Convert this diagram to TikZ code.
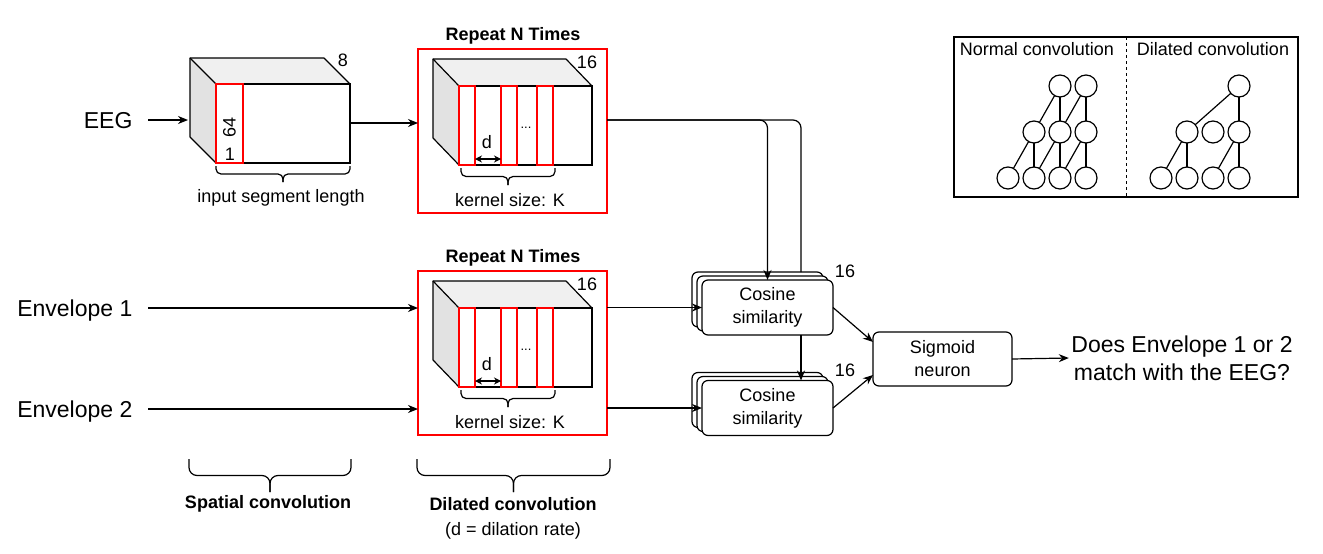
\documentclass[tikz,border=0pt]{standalone}
\usepackage{fontspec}
\setmainfont{Liberation Sans}
\usetikzlibrary{arrows.meta,calc}
\definecolor{topface}{HTML}{F0F0F0}
\definecolor{sideface}{HTML}{E2E2E2}
\definecolor{myred}{HTML}{FF0000}
\newcommand\ubrace[5]{% x1, x2, ytop, ytip, radius
  \draw[rounded corners=#5] (#1,#3) |- ({(#1+#2)/2},{(#3+#4)/2}) -- ({(#1+#2)/2},#4);
  \draw[rounded corners=#5] (#2,#3) |- ({(#1+#2)/2},{(#3+#4)/2}) -- ({(#1+#2)/2},#4);
}
\begin{document}
\begin{tikzpicture}[x=1pt,y=-1pt,line width=1.2pt,
  >={Stealth[length=10pt,width=8pt]},
  txt/.style={font=\fontsize{18}{22}\selectfont,inner sep=0pt,align=center},
  bigtxt/.style={font=\fontsize{23}{28}\selectfont,inner sep=0pt,align=center},
  boldtxt/.style={font=\fontsize{18}{22}\selectfont\bfseries,inner sep=0pt},
  sidelbl/.style={font=\fontsize{23}{28}\selectfont,inner sep=0pt,anchor=east,text height=16.5pt,text depth=0pt},
  cubefront/.style={draw,fill=white,inner sep=0pt,outer sep=0pt,minimum height=79pt},
  redbox/.style={draw=myred,inner sep=0pt,outer sep=0pt,minimum width=189pt,minimum height=164pt},
  stripe/.style={draw=myred},
  cosbox/.style={draw,fill=white,rounded corners=6pt,minimum width=131pt,minimum height=55pt,inner sep=0pt,outer sep=0pt,align=center,font=\fontsize{18}{23}\selectfont},
  sigbox/.style={draw,fill=white,rounded corners=6pt,minimum width=139pt,minimum height=54pt,inner sep=0pt,outer sep=0pt,align=center,font=\fontsize{18}{23}\selectfont},
  circ/.style={draw,circle,minimum size=22pt,inner sep=0pt,outer sep=0pt},
  legbox/.style={draw,inner sep=0pt,outer sep=0pt,minimum width=344pt,minimum height=160pt}
]
\useasboundingbox (0,0) rectangle (1323,554);

% ---------- input labels ----------
\node[sidelbl] (eeg) at (133,120) {EEG};
\node[sidelbl] (env1) at (133,308) {Envelope 1};
\node[sidelbl] (env2) at (133,409) {Envelope 2};

% ---------- spatial convolution cube ----------
\node[cubefront,minimum width=134pt] (cubeS) at (283,123.5) {};
\fill[sideface] (cubeS.north west) -- ++(-26,-26) -- ([shift={(-26,-26)}]cubeS.south west) -- (cubeS.south west) -- cycle;
\fill[topface] (cubeS.north west) -- ++(-26,-26) -- ([shift={(-26,-26)}]cubeS.north east) -- (cubeS.north east) -- cycle;
\draw[line join=round] (cubeS.south west) -- ++(-26,-26) -- ++(0,-79) -- ++(134,0) -- (cubeS.north east);
\draw (cubeS.north west) -- ++(-26,-26);
\node[cubefront,minimum width=134pt] at (cubeS) {};
\draw[stripe] (cubeS.north west) rectangle ++(27,79);
\node[txt,rotate=90] (n64) at (229.5,127) {64};
\node[txt] (n1) at (230,154) {1};
\node[txt] (n8) at (343,60) {8};
\ubrace{216}{350}{166}{182}{5pt}
\node[txt] (isl) at (281,198) {input segment length};

% ---------- dilated convolution blocks ----------
\foreach \s/\dy in {a/0,b/222}{
  \begin{scope}[shift={(0,\dy)}]
  \node[redbox] (rep\s) at (512.5,131) {};
  \node[boldtxt] (title\s) at (513,36) {Repeat N Times};
  \node[cubefront,minimum width=133pt] (cube\s) at (525.5,125.5) {};
  \fill[sideface] (cube\s.north west) -- ++(-26,-27) -- ([shift={(-26,-27)}]cube\s.south west) -- (cube\s.south west) -- cycle;
  \fill[topface] (cube\s.north west) -- ++(-26,-27) -- ([shift={(-26,-27)}]cube\s.north east) -- (cube\s.north east) -- cycle;
  \draw[line join=round] (cube\s.south west) -- ++(-26,-27) -- ++(0,-79) -- ++(133,0) -- (cube\s.north east);
  \draw (cube\s.north west) -- ++(-26,-27);
  \node[cubefront,minimum width=133pt] at (cube\s) {};
  \draw[stripe] (cube\s.north west) rectangle ++(16,79);
  \draw[stripe] ([xshift=42pt]cube\s.north west) rectangle ++(16,79);
  \draw[stripe] ([xshift=78pt]cube\s.north west) rectangle ++(16,79);
  \node[font=\fontsize{13}{15}\selectfont,inner sep=0pt] (dots\s) at (526,128) {...};
  \node[txt] (d\s) at (487,142) {d};
  \coordinate (dl\s) at (475,159);
  \coordinate (dr\s) at (501,159);
  \draw[{Stealth[length=7pt,width=7pt]}-{Stealth[length=7pt,width=7pt]}] (dl\s) -- (dr\s);
  \node[txt] (n16\s) at (587,62) {16};
  \ubrace{461}{555}{168}{185}{5pt}
  \node[txt] (ks\s) at (510,200) {kernel size: K};
  \end{scope}
}

% ---------- arrows into blocks ----------
\draw[->,shorten <=15pt] (eeg.east) -- ([xshift=-28pt]eeg.east -| cubeS.west);
\draw[->] (cubeS.east |- 0,123) -- (repa.west |- 0,123);
\draw[->,shorten <=15pt] (env1.east) -- (env1.east -| repb.west);
\draw[->,shorten <=15pt] (env2.east) -- (env2.east -| repb.west);

% ---------- cosine similarity stacks ----------
\node[cosbox] (cos1c) at (757.5,299.5) {};
\node[cosbox] (cos1b) at (762.5,303.5) {};
\node[cosbox] (cos1) at (767.5,307.5) {Cosine\\similarity};
\node[cosbox] (cos2c) at (757.5,400) {};
\node[cosbox] (cos2b) at (762.5,404) {};
\node[cosbox] (cos2) at (767.5,408) {Cosine\\similarity};
\node[txt] (n16c) at (845,271) {16};
\node[txt] (n16d) at (845,370) {16};

\coordinate (eegout) at (607,120);
\coordinate (lane) at (801,0);
\draw[->,rounded corners=8pt] (eegout) -| (cos1.north);
\draw[rounded corners=8pt] (eegout) -| (lane |- cos1c.north);
\draw[->] (lane |- cos1.south) -- (lane |- cos2.north);

\draw[->] (repb.east |- cos1.west) -- (cos1.west);
\draw[->] (repb.east |- cos2.west) -- (cos2.west);

% ---------- sigmoid ----------
\node[sigbox] (sig) at (942.5,359) {Sigmoid\\neuron};
\draw[->] ([yshift=0pt]cos1.east) -- ([yshift=17pt]sig.west);
\draw[->] ([yshift=0pt]cos2.east) -- ([yshift=-16pt]sig.west);
\node[bigtxt,inner sep=2pt] (out) at (1182,358) {Does Envelope 1 or 2\\match with the EEG?};
\draw[->] (sig.east) -- (out.west);

% ---------- bottom braces ----------
\ubrace{189}{351}{459}{492}{8pt}
\node[boldtxt] (spc) at (268,504) {Spatial convolution};
\ubrace{417}{610}{459}{492}{8pt}
\node[boldtxt] (dlc) at (513,504) {Dilated convolution};
\node[txt] (dlr) at (513,531) {(d = dilation rate)};

% ---------- legend ----------
\node[legbox] (leg) at (1126,117) {};
\coordinate (divx) at (1126,0);
\draw[dashed,line width=1pt] (divx |- leg.north) -- (divx |- leg.south);
\node[txt] (normt) at (1037,49) {Normal convolution};
\node[txt] (dilt) at (1213,49) {Dilated convolution};
% normal
\node[circ] (nt3) at (1060,86) {};
\node[circ] (nt4) at (1086,86) {};
\node[circ] (nm2) at (1034,132) {};
\node[circ] (nm3) at (1060,132) {};
\node[circ] (nm4) at (1086,132) {};
\node[circ] (nb1) at (1008,178) {};
\node[circ] (nb2) at (1034,178) {};
\node[circ] (nb3) at (1060,178) {};
\node[circ] (nb4) at (1086,178) {};
\draw (nt3) -- (nm2); \draw (nt3) -- (nm3);
\draw (nt4) -- (nm3); \draw (nt4) -- (nm4);
\draw (nm2) -- (nb1); \draw (nm2) -- (nb2);
\draw (nm3) -- (nb2); \draw (nm3) -- (nb3);
\draw (nm4) -- (nb3); \draw (nm4) -- (nb4);
% dilated
\node[circ] (dt) at (1239,86) {};
\node[circ] (dm1) at (1187,132) {};
\node[circ] (dm2) at (1213,132) {};
\node[circ] (dm3) at (1239,132) {};
\node[circ] (db1) at (1161,178) {};
\node[circ] (db2) at (1187,178) {};
\node[circ] (db3) at (1213,178) {};
\node[circ] (db4) at (1239,178) {};
\draw (dt) -- (dm1); \draw (dt) -- (dm3);
\draw (dm1) -- (db1); \draw (dm1) -- (db2);
\draw (dm3) -- (db3); \draw (dm3) -- (db4);
\end{tikzpicture}
\end{document}
